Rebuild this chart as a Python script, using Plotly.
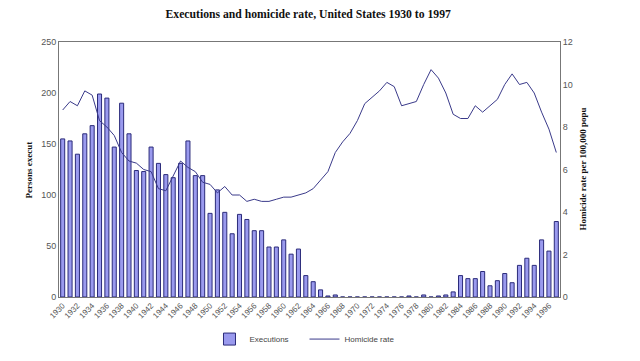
import plotly.graph_objects as go

years = list(range(1930, 1998))
executions = [155, 153, 140, 160, 168, 199, 195, 147, 190, 160,
              124, 123, 147, 131, 120, 117, 131, 153, 119, 119,
              82, 105, 83, 62, 81, 76, 65, 65, 49, 49,
              56, 42, 47, 21, 15, 7, 1, 2, 0, 0,
              0, 0, 0, 0, 0, 0, 0, 1, 0, 2,
              0, 1, 2, 5, 21, 18, 18, 25, 11, 16,
              23, 14, 31, 38, 31, 56, 45, 74]
homicide_rate = [8.8, 9.2, 9.0, 9.7, 9.5, 8.3, 8.0, 7.6, 6.8, 6.4,
                 6.3, 6.0, 5.9, 5.1, 5.0, 5.7, 6.4, 6.1, 5.9, 5.4,
                 5.3, 4.9, 5.2, 4.8, 4.8, 4.5, 4.6, 4.5, 4.5, 4.6,
                 4.7, 4.7, 4.8, 4.9, 5.1, 5.5, 5.9, 6.8, 7.3, 7.7,
                 8.3, 9.1, 9.4, 9.7, 10.1, 9.9, 9.0, 9.1, 9.2, 10.0,
                 10.7, 10.3, 9.6, 8.6, 8.4, 8.4, 9.0, 8.7, 9.0, 9.3,
                 10.0, 10.5, 10.0, 10.1, 9.6, 8.7, 7.9, 6.8]
x_ticks = list(range(1930, 1998, 2))

tick_font = dict(family="Liberation Sans, Arial, sans-serif", size=9, color="#555555")
serif_bold = "Liberation Serif, Times New Roman, serif"

fig = go.Figure()
fig.add_trace(go.Bar(
    x=years, y=executions, name="Executions",
    marker=dict(color="#9a9aee", line=dict(color="#2b2b7a", width=1)),
    yaxis="y",
))
fig.add_trace(go.Scatter(
    x=years, y=homicide_rate, name="Homicide rate", mode="lines",
    line=dict(color="#3a3a8a", width=1),
    yaxis="y2",
))

fig.update_layout(
    width=632, height=353,
    margin=dict(l=51, r=80, t=34, b=64, autoexpand=False),
    paper_bgcolor="white", plot_bgcolor="white",
    bargap=0.45,
    showlegend=True,
    title=dict(text="<b>Executions and homicide rate, United States 1930 to 1997</b>",
               font=dict(family=serif_bold, size=11.7, color="#111111"),
               x=0.475, xanchor="center", y=0.984, yanchor="middle"),
    legend=dict(orientation="h", x=0.49, xanchor="center", y=-0.165, yanchor="middle",
                font=dict(family="Liberation Sans, Arial, sans-serif", size=8, color="#444444"),
                bgcolor="rgba(0,0,0,0)", itemwidth=30, tracegroupgap=0,
                entrywidth=50, entrywidthmode="pixels"),
    xaxis=dict(range=[1929.5, 1997.5], tickvals=x_ticks, ticktext=[str(v) for v in x_ticks],
               tickangle=-45, tickfont=dict(family="Liberation Sans, Arial, sans-serif", size=8, color="#555555"),
               showgrid=False, showline=True, linecolor="#777777", linewidth=1, mirror=True,
               ticks="", zeroline=False, automargin=False),
    yaxis=dict(range=[0, 250], tickvals=[0, 50, 100, 150, 200, 250], tickfont=tick_font,
               showgrid=False, showline=True, linecolor="#777777", linewidth=1,
               ticks="", zeroline=False, automargin=False),
    yaxis2=dict(range=[0, 12], tickvals=[0, 2, 4, 6, 8, 10, 12], tickfont=tick_font,
                overlaying="y", side="right",
                showgrid=False, showline=True, linecolor="#777777", linewidth=1,
                ticks="", zeroline=False, automargin=False),
    annotations=[
        dict(text="<b>Persons execut</b>", xref="paper", yref="paper",
             x=-0.06, y=0.5, xanchor="center", yanchor="middle",
             textangle=-90, showarrow=False,
             font=dict(family=serif_bold, size=9, color="#111111")),
        dict(text="<b>Homicide rate per 100,000 popu</b>", xref="paper", yref="paper",
             x=1.044, y=0.5, xanchor="center", yanchor="middle",
             textangle=-90, showarrow=False,
             font=dict(family=serif_bold, size=9, color="#111111")),
    ],
)

fig.write_html("out.html")
